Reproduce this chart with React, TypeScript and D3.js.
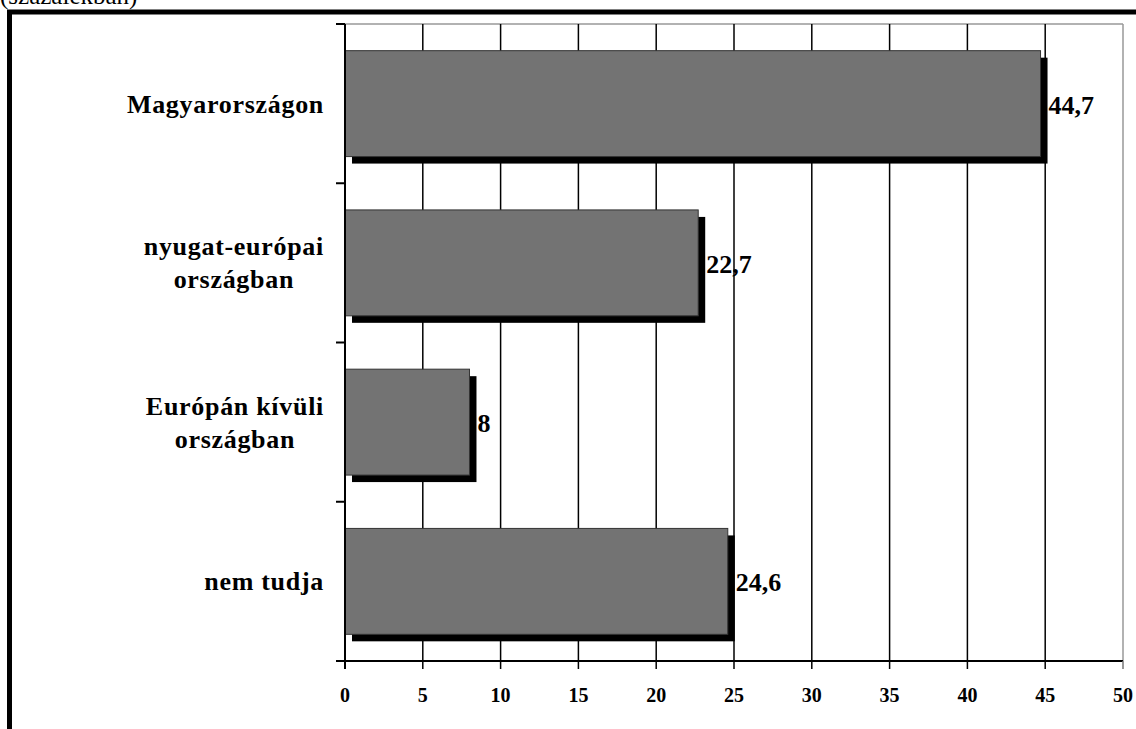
import React, { useEffect, useRef } from "react";
import * as d3 from "d3";

const categories = ["Magyarországon", "nyugat-európai\nországban", "Európán kívüli\nországban", "nem tudja"];
const values = [44.7, 22.7, 8, 24.6];
const valueLabels = ["44,7", "22,7", "8", "24,6"];
const xTicks = [0, 5, 10, 15, 20, 25, 30, 35, 40, 45, 50];
const subtitle = "(százalékban)";

const W = 1136;
const H = 729;
const FONT = "'Liberation Serif', 'Times New Roman', serif";

export default function App() {
  const ref = useRef<SVGSVGElement>(null);

  useEffect(() => {
    const svg = d3.select(ref.current);
    svg.selectAll("*").remove();

    const left = 345, right = 1123, top = 24, bottom = 661;
    const x = d3.scaleLinear().domain([0, 50]).range([left, right]);
    const y = d3.scaleBand<string>().domain(categories).range([top, bottom]).paddingInner(0.335).paddingOuter(0.1675);

    svg.append("rect").attr("width", W).attr("height", H).attr("fill", "#fff");

    svg.append("text").attr("x", 0).attr("y", 4).attr("font-family", FONT).attr("font-size", 25)
      .attr("fill", "#000").text(subtitle);

    // outer frame
    svg.append("rect").attr("x", 9.5).attr("y", 12).attr("width", 1300).attr("height", 900)
      .attr("fill", "none").attr("stroke", "#000").attr("stroke-width", 5);

    // plot area border (gray top/right)
    svg.append("line").attr("x1", left).attr("x2", right).attr("y1", top).attr("y2", top).attr("stroke", "#999").attr("stroke-width", 1.5);
    svg.append("line").attr("x1", right).attr("x2", right).attr("y1", top).attr("y2", bottom).attr("stroke", "#999").attr("stroke-width", 1.5);

    // gridlines
    svg.append("g").selectAll("line").data(xTicks.slice(1, -1)).join("line")
      .attr("x1", (d) => x(d)).attr("x2", (d) => x(d)).attr("y1", top).attr("y2", bottom)
      .attr("stroke", "#000").attr("stroke-width", 1.5);

    // shadows
    const off = 7;
    svg.append("g").selectAll("rect").data(categories).join("rect")
      .attr("x", x(0) + off).attr("y", (d) => (y(d) as number) + off)
      .attr("width", (_d, i) => x(values[i]) - x(0)).attr("height", y.bandwidth())
      .attr("fill", "#000");

    // bars
    svg.append("g").selectAll("rect").data(categories).join("rect")
      .attr("x", x(0)).attr("y", (d) => y(d) as number)
      .attr("width", (_d, i) => x(values[i]) - x(0)).attr("height", y.bandwidth())
      .attr("fill", "#737373").attr("stroke", "#333").attr("stroke-width", 1);

    // value labels
    svg.append("g").selectAll("text").data(categories).join("text")
      .attr("x", (_d, i) => x(values[i]) + off + 1).attr("y", (d) => (y(d) as number) + y.bandwidth() / 2 + 10)
      .attr("font-family", FONT).attr("font-size", 26).attr("font-weight", "bold").attr("fill", "#000")
      .text((_d, i) => valueLabels[i]);

    // axes lines
    svg.append("line").attr("x1", left).attr("x2", left).attr("y1", top).attr("y2", bottom + 8).attr("stroke", "#000").attr("stroke-width", 2);
    svg.append("line").attr("x1", left - 9).attr("x2", right).attr("y1", bottom).attr("y2", bottom).attr("stroke", "#000").attr("stroke-width", 2);

    // left axis ticks at band boundaries
    const bounds = [top, ...categories.slice(1).map((d) => (y(d) as number) - y.step() * y.paddingInner() / 2), bottom];
    svg.append("g").selectAll("line").data(bounds).join("line")
      .attr("x1", left - 9).attr("x2", left).attr("y1", (d) => d).attr("y2", (d) => d)
      .attr("stroke", "#000").attr("stroke-width", 2);

    // bottom ticks
    svg.append("g").selectAll("line").data(xTicks).join("line")
      .attr("x1", (d) => x(d)).attr("x2", (d) => x(d)).attr("y1", bottom).attr("y2", bottom + 8)
      .attr("stroke", (d) => (d === 50 ? "#777" : "#000")).attr("stroke-width", 1.5);

    svg.append("g").selectAll("text").data(xTicks).join("text")
      .attr("x", (d) => x(d)).attr("y", 702).attr("text-anchor", "middle")
      .attr("font-family", FONT).attr("font-size", 20).attr("font-weight", "bold").attr("fill", "#000")
      .text((d) => String(d));

    // category labels
    const labelRight = 324;
    categories.forEach((c) => {
      const lines = c.split("\n");
      const cy = (y(c) as number) + y.bandwidth() / 2;
      const g = svg.append("g");
      const texts = lines.map((ln, i) =>
        g.append("text").attr("y", cy + (i - (lines.length - 1) / 2) * 33 + 9)
          .attr("text-anchor", "start").attr("font-family", FONT).attr("font-size", 26)
          .attr("font-weight", "bold").attr("letter-spacing", 0.7).attr("fill", "#000").text(ln)
      );
      const widths = texts.map((t) => (t.node() as SVGTextElement).getBBox().width);
      const maxW = d3.max(widths) || 0;
      texts.forEach((t, i) => t.attr("x", labelRight - maxW / 2 - widths[i] / 2));
    });
  }, []);

  return (
    <svg ref={ref} width={W} height={H} style={{ position: "absolute", left: 0, top: 0, display: "block" }} />
  );
}
